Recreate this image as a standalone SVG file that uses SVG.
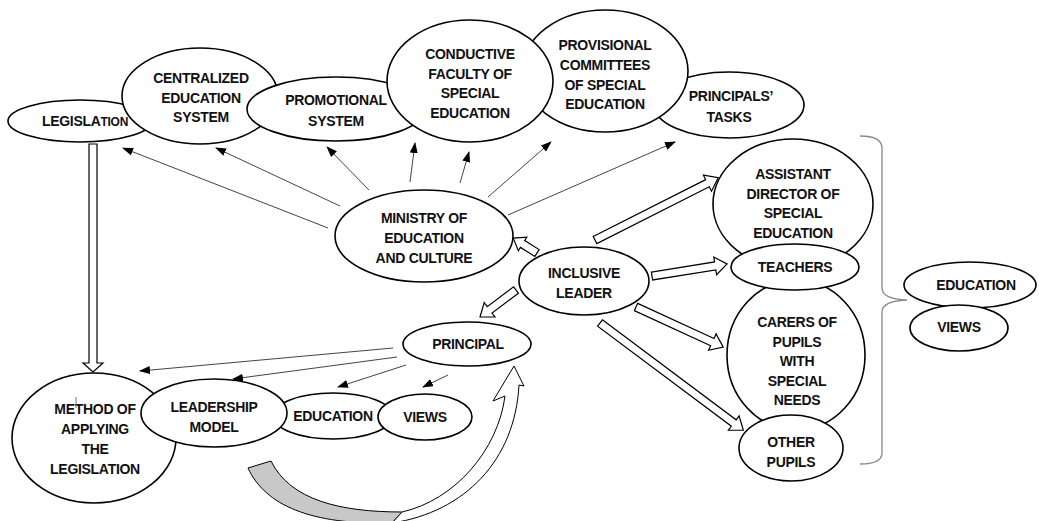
<svg xmlns="http://www.w3.org/2000/svg" width="1039" height="521" viewBox="0 0 1039 521">
<style>
.n ellipse{fill:#fff;stroke:#000;stroke-width:1.6}
.n text{font-family:"Liberation Sans",Arial,sans-serif;font-weight:bold;font-size:14px;letter-spacing:-0.3px;text-anchor:middle;fill:#111}
.thin line{stroke:#444;stroke-width:1;marker-end:url(#ah)}
.blk{fill:#fff;stroke:#000;stroke-width:1.2}
.brace{fill:none;stroke:#8a8a8a;stroke-width:1.3}
</style>
<defs>
<marker id="ah" markerUnits="userSpaceOnUse" markerWidth="11" markerHeight="8" refX="10" refY="4" orient="auto"><path d="M0,0 L11,4 L0,8 Z" fill="#000"/></marker>
</defs>
<rect width="1039" height="521" fill="#fff"/>

<g id="curved-arrow">
<path d="M248,468 C265,505 310,525 392,523 L402,512 C340,512 290,500 271,461 Z" fill="#c8c8c8" stroke="#000" stroke-width="1"/>
<path d="M392,523 C465,512 515,460 519,385 L524,386 L514,366 L493,401 L505,396 C498,450 455,500 402,512 Z" fill="#fff" stroke="#000" stroke-width="1"/>
</g>

<g id="legislation" class="n"><ellipse cx="80" cy="121" rx="72" ry="21"/><text x="85" y="126">LEGISLA<tspan font-size="12">TION</tspan></text></g>
<g id="centralized" class="n"><ellipse cx="200" cy="96" rx="78" ry="48"/><text x="201" y="83">CENTRALIZED</text><text x="201" y="103">EDUCATION</text><text x="201" y="122">SYSTEM</text></g>
<g id="promotional" class="n"><ellipse cx="336" cy="109" rx="89" ry="32"/><text x="336" y="105">PROMOTIONAL</text><text x="336" y="126">SYSTEM</text></g>
<g id="principals-tasks" class="n"><ellipse cx="729" cy="105" rx="75" ry="33"/><text x="731" y="101">PRINCIPALS’</text><text x="729" y="122">TASKS</text></g>
<g id="provisional" class="n"><ellipse cx="605" cy="71" rx="83" ry="61"/><text x="605" y="50">PROVISIONAL</text><text x="605" y="70">COMMITTEES</text><text x="605" y="90">OF SPECIAL</text><text x="605" y="109">EDUCATION</text></g>
<g id="conductive" class="n"><ellipse cx="470" cy="81" rx="83" ry="61"/><text x="470" y="59">CONDUCTIVE</text><text x="470" y="79">FACULTY OF</text><text x="470" y="98">SPECIAL</text><text x="470" y="118">EDUCATION</text></g>

<g id="ministry" class="n"><ellipse cx="424" cy="236" rx="89" ry="46"/><text x="424" y="223">MINISTRY OF</text><text x="424" y="243">EDUCATION</text><text x="424" y="263">AND CULTURE</text></g>
<g id="inclusive-leader" class="n"><ellipse cx="584" cy="281" rx="65" ry="34"/><text x="584" y="278">INCLUSIVE</text><text x="584" y="298">LEADER</text></g>
<g id="principal" class="n"><ellipse cx="467" cy="344" rx="64" ry="22"/><text x="468" y="349">PRINCIPAL</text></g>

<g id="method" class="n"><ellipse cx="94" cy="438" rx="82" ry="65"/><text x="95" y="414">METHOD OF</text><text x="95" y="434">APPLYING</text><text x="95" y="454">THE</text><text x="95" y="474">LEGISLATION</text><line x1="76" y1="397" x2="76" y2="408" stroke="#777" stroke-width="1"/></g>
<g id="education-bottom" class="n"><ellipse cx="333" cy="416" rx="60" ry="23"/><text x="333" y="421">EDUCATION</text></g>
<g id="views-bottom" class="n"><ellipse cx="425" cy="417" rx="47" ry="23"/><text x="425" y="422">VIEWS</text></g>
<g id="leadership" class="n"><ellipse cx="214" cy="413" rx="73" ry="34"/><text x="214" y="412">LEADERSHIP</text><text x="214" y="432">MODEL</text></g>

<g id="assistant" class="n"><ellipse cx="793" cy="204" rx="80" ry="65"/><text x="793" y="179">ASSISTANT</text><text x="793" y="199">DIRECTOR OF</text><text x="793" y="218">SPECIAL</text><text x="793" y="238">EDUCATION</text></g>
<g id="carers" class="n"><ellipse cx="796" cy="355" rx="69" ry="75"/><text x="797" y="327">CARERS OF</text><text x="797" y="347">PUPILS</text><text x="797" y="366">WITH</text><text x="797" y="386">SPECIAL</text><text x="797" y="405">NEEDS</text></g>
<g id="other-pupils" class="n"><ellipse cx="791" cy="448" rx="52" ry="33"/><text x="791" y="447">OTHER</text><text x="791" y="467">PUPILS</text></g>
<g id="teachers" class="n"><ellipse cx="795" cy="267" rx="64" ry="23"/><text x="795" y="272">TEACHERS</text></g>

<g id="education-right" class="n"><ellipse cx="970" cy="285" rx="66" ry="23"/><text x="976" y="290">EDUCATION</text></g>
<g id="views-right" class="n"><ellipse cx="959" cy="328" rx="49" ry="23"/><text x="959" y="332">VIEWS</text></g>

<g id="connectors">
<g class="thin">
<line x1="328" y1="228" x2="123" y2="148"/>
<line x1="340" y1="206" x2="216" y2="148"/>
<line x1="369" y1="190" x2="327" y2="147"/>
<line x1="410" y1="182" x2="415" y2="143"/>
<line x1="460" y1="183" x2="469" y2="152"/>
<line x1="488" y1="197" x2="551" y2="142"/>
<line x1="508" y1="215" x2="675" y2="142"/>
<line x1="393" y1="348" x2="140" y2="371"/>
<line x1="397" y1="357" x2="233" y2="379"/>
<line x1="406" y1="365" x2="338" y2="387"/>
<line x1="448" y1="375" x2="423" y2="387"/>
</g>
<path class="blk" d="M89,144 L97,144 L97,363 L103,363 L93,372 L83,363 L89,363 Z"/>
<path class="blk" transform="translate(537,253) rotate(212)" d="M0,-4 L17,-4 L17,-8 L28,0 L17,8 L17,4 L0,4 Z"/>
<path class="blk" transform="translate(516,290) rotate(143.1)" d="M0,-4 L33,-4 L33,-9 L45,0 L33,9 L33,4 L0,4 Z"/>
<path class="blk" transform="translate(595,240) rotate(-26.8)" d="M0,-4 L126,-4 L126,-9 L138,0 L126,9 L126,4 L0,4 Z"/>
<path class="blk" transform="translate(652,276) rotate(-9.1)" d="M0,-4 L64,-4 L64,-9 L76,0 L64,9 L64,4 L0,4 Z"/>
<path class="blk" transform="translate(636,307) rotate(24.7)" d="M0,-4 L84,-4 L84,-9 L96,0 L84,9 L84,4 L0,4 Z"/>
<path class="blk" transform="translate(600,323) rotate(36.8)" d="M0,-4 L167,-4 L167,-9 L179,0 L167,9 L167,4 L0,4 Z"/>
<path class="brace" d="M860,136 Q882,136 882,148 L882,288 Q882,299 907,300 Q882,301 882,312 L882,453 Q882,464 860,464"/>
</g>
</svg>
